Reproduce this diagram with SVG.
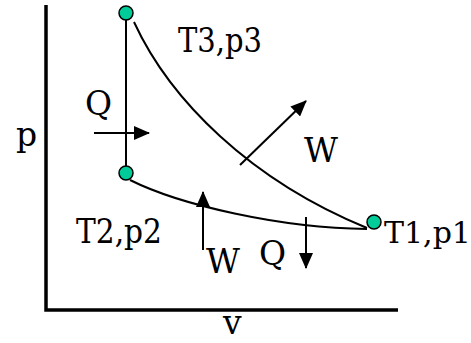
<svg xmlns="http://www.w3.org/2000/svg" width="471" height="343" viewBox="0 0 471 343">
<style>
text{font-family:'DejaVu Serif','Liberation Serif',serif;font-size:33px;fill:#000}
.ax{stroke:#000;stroke-width:3.5;fill:none}
.ln{stroke:#000;stroke-width:2;fill:none}
.ar{stroke:#000;stroke-width:2;fill:none;marker-end:url(#ah)}
.nd{fill:#00CC99;stroke:#000;stroke-width:1.5}
</style>
<defs>
<marker id="ah" markerUnits="userSpaceOnUse" markerWidth="16" markerHeight="14" refX="15" refY="7" orient="auto">
<path d="M0,0 L16,7 L0,14 Z" fill="#000"/>
</marker>
</defs>
<g id="axes">
<path class="ax" d="M46,5 V310 H398"/>
<text x="16" y="146">p</text>
<text x="223" y="334">v</text>
</g>
<g id="connectors">
<path class="ln" d="M126,13 V173"/>
<path class="ln" d="M134,22 C170,100 250,180 367,228"/>
<path class="ln" d="M130,180 C180,205 280,228 367,229"/>
<path class="ar" d="M94,133 H149"/>
<path class="ar" d="M240,165 L306,101"/>
<path class="ar" d="M203,250 V192"/>
<path class="ar" d="M306,217 V268"/>
</g>
<g id="labels">
<text x="85" y="115">Q</text>
<text x="304" y="162">W</text>
<text x="206" y="273">W</text>
<text x="259" y="265">Q</text>
</g>
<g id="n3"><circle class="nd" cx="126" cy="13" r="7"/><text x="178" y="52" textLength="84" lengthAdjust="spacingAndGlyphs">T3,p3</text></g>
<g id="n2"><circle class="nd" cx="126" cy="173" r="7"/><text x="76" y="243" textLength="86" lengthAdjust="spacingAndGlyphs">T2,p2</text></g>
<g id="n1"><circle class="nd" cx="374" cy="222" r="7"/><text x="384" y="243" style="font-size:30px">T1,p1</text></g>
</svg>
